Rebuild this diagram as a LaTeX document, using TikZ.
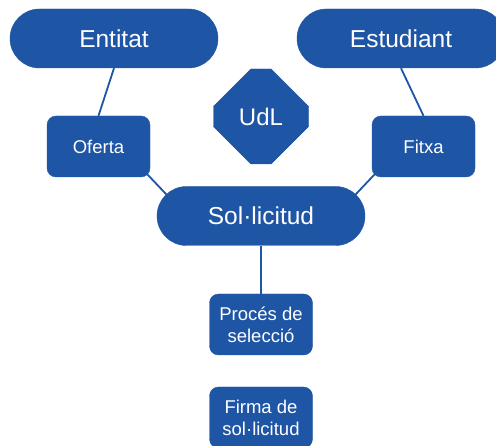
\documentclass[tikz,border=0pt]{standalone}
\usepackage{fontspec}
\setmainfont{Liberation Sans}
\usepackage{xcolor}
\usetikzlibrary{shapes.misc,backgrounds}
\definecolor{udlblue}{RGB}{31,85,165}

\begin{document}
\begin{tikzpicture}[x=1pt,y=1pt,
        big/.style={fill=udlblue,draw=udlblue,text=white,rounded corners=29.5pt,
                minimum width=208pt,minimum height=59pt,font=\fontsize{24.5}{29}\selectfont},
        small/.style={fill=udlblue,draw=udlblue,text=white,rounded corners=9pt,align=center,
                minimum width=103pt,minimum height=61pt,inner sep=2pt,font=\fontsize{18.5}{21.8}\selectfont},
        link/.style={draw=udlblue,line width=1.8pt}]
        \useasboundingbox (0,0) rectangle (496,-446);
        \clip (0,0) rectangle (496,-446);
        \node[big](entitat) at (114,-38.5) {Entitat};
        \node[big](estudiant) at (401,-38.5) {Estudiant};
        \node[chamfered rectangle,chamfered rectangle xsep=34pt,chamfered rectangle ysep=32pt,
                fill=udlblue,draw=udlblue,text=white,minimum width=95pt,minimum height=95pt,
                font=\fontsize{24}{29}\selectfont](udl) at (261,-116.5) {UdL};
        \node[small](oferta) at (98.5,-146.5) {Oferta};
        \node[small](fitxa) at (423.5,-146.5) {Fitxa};
        \node[big](sol) at (261,-216) {Sol·licitud};
        \node[small](proces) at (261,-324.5) {Procés de\\selecció};
        \node[small](firma) at (261,-417.5) {Firma de\\sol·licitud};
        \begin{scope}[on background layer]
        \draw[link](entitat.south)--(oferta.north);
        \draw[link](estudiant.south)--(fitxa.north);
        \draw[link]([xshift=-3pt,yshift=3pt]oferta.south east)--([xshift=30pt]sol.west);
        \draw[link]([xshift=3pt,yshift=3pt]fitxa.south west)--([xshift=-30pt]sol.east);
        \draw[link](sol.south)--(proces.north);
        \end{scope}
        \end{tikzpicture}
\end{document}
